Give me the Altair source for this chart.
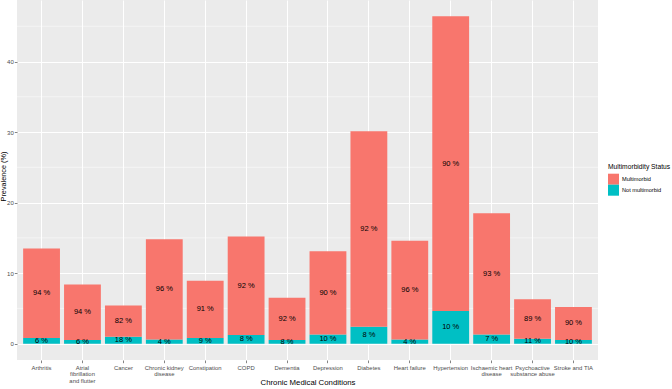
import altair as alt
import pandas as pd

# Chronic conditions (line breaks mark where axis labels wrap)
conditions = [
    "Arthritis", "Atrial\nfibrillation\nand flutter", "Cancer",
    "Chronic kidney\ndisease", "Constipation", "COPD", "Dementia",
    "Depression", "Diabetes", "Heart failure", "Hypertension",
    "Ischaemic heart\ndisease", "Psychoactive\nsubstance abuse", "Stroke and TIA",
]
# Overall prevalence (%) of each condition
prevalence = [13.5, 8.4, 5.4, 14.8, 8.9, 15.2, 6.5, 13.1, 30.1, 14.6, 46.4, 18.5, 6.3, 5.2]
# Share (%) of patients with each condition who are not multimorbid
pct_not_multimorbid = [6, 6, 18, 4, 9, 8, 8, 10, 8, 4, 10, 7, 11, 10]

status_order = ["Multimorbid", "Not multimorbid"]
status_colors = ["#F8766D", "#00BFC4"]
major_breaks = [0, 10, 20, 30, 40]
minor_breaks = [5, 15, 25, 35, 45]

rows = []
for cond, tot, pn in zip(conditions, prevalence, pct_not_multimorbid):
    not_val = tot * pn / 100.0
    pm = 100 - pn
    rows.append(dict(condition=cond, status="Not multimorbid", lo=0.0, hi=not_val,
                     mid=not_val / 2, label=f"{pn} %"))
    rows.append(dict(condition=cond, status="Multimorbid", lo=not_val, hi=tot,
                     mid=(not_val + tot) / 2, label=f"{pm} %"))
df = pd.DataFrame(rows)

ymax = max(prevalence)
y_dom = [-0.05 * ymax, 1.05 * ymax]
FONT = "Liberation Sans"

x_axis = alt.Axis(
    title="Chronic Medical Conditions", labelAngle=0,
    labelExpr="split(datum.label, '\\n')",
    labelFont=FONT, labelFontSize=5.9, labelColor="#4D4D4D", labelLineHeight=6.6,
    labelPadding=1.5, labelBaseline="top",
    tickColor="#333333", tickSize=2.7, tickWidth=0.6, bandPosition=0.5,
    grid=True, gridColor="white", gridWidth=1.0,
    domain=False,
    titleFont=FONT, titleFontSize=7.8, titleFontWeight="normal", titleColor="black",
    titleY=22, titleBaseline="middle",
)
x_enc = alt.X(
    "condition:N", sort=conditions,
    scale=alt.Scale(paddingInner=0.1, paddingOuter=0.15),
    axis=x_axis,
)

y_scale = alt.Scale(domain=y_dom, nice=False, zero=False)
y_axis = alt.Axis(
    title="Prevalence (%)", values=major_breaks, labelOverlap=False,
    labelFont=FONT, labelFontSize=6.0, labelColor="#4D4D4D", labelPadding=1,
    tickColor="#333333", tickSize=2.7, tickWidth=0.6,
    grid=True, gridColor="white", gridWidth=1.0, domain=False,
    titleFont=FONT, titleFontSize=7.3, titleFontWeight="normal", titleColor="black",
    titleX=-14, titleY=176, titleAngle=270, titleBaseline="middle",
)

minor = alt.Chart(pd.DataFrame({"v": minor_breaks})).mark_rule(
    color="white", strokeWidth=0.5
).encode(y=alt.Y("v:Q", scale=y_scale, axis=y_axis))

bars = alt.Chart(df).mark_bar().encode(
    x=x_enc,
    y=alt.Y("lo:Q", scale=y_scale, axis=y_axis),
    y2="hi:Q",
    color=alt.Color(
        "status:N",
        scale=alt.Scale(domain=status_order, range=status_colors),
        legend=alt.Legend(
            title="Multimorbidity Status", orient="none", legendX=591, legendY=164,
            titleFont=FONT, titleFontSize=6.7, titleFontWeight="normal", titleColor="black",
            titlePadding=3,
            labelFont=FONT, labelFontSize=5.6, labelColor="black",
            symbolType="square", symbolSize=121, symbolStrokeWidth=0, symbolOpacity=1,
            rowPadding=0, labelOffset=3,
        ),
    ),
)

labels = alt.Chart(df).mark_text(
    font=FONT, fontSize=7.5, color="black", baseline="middle", align="center"
).encode(
    x=alt.X("condition:N", sort=conditions, axis=x_axis),
    y=alt.Y("mid:Q", scale=y_scale, axis=y_axis),
    text="label:N",
)

chart = alt.layer(minor, bars, labels).properties(
    width=581, height=360,
    padding={"left": 17, "top": 0, "right": 74, "bottom": 29},
    autosize=alt.AutoSizeParams(type="none"),
    background="white",
).configure_view(fill="#EBEBEB", stroke=None)

chart.save("out.html", embed_options={"renderer": "svg", "actions": False})
